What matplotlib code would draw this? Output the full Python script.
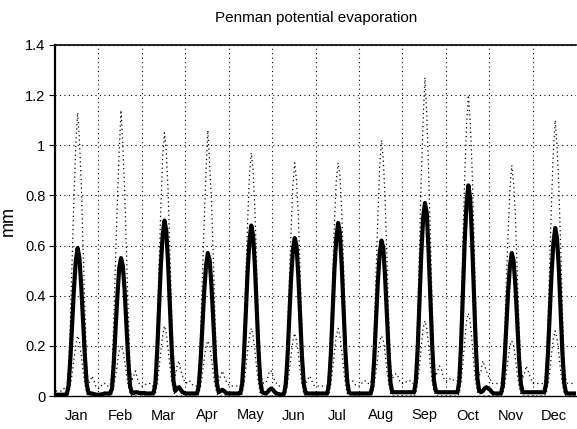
import matplotlib
matplotlib.use("Agg")
import matplotlib.pyplot as plt
import numpy as np

plt.rcParams['font.family'] = ['Liberation Sans', 'DejaVu Sans']

months = ['Jan', 'Feb', 'Mar', 'Apr', 'May', 'Jun', 'Jul', 'Aug', 'Sep', 'Oct', 'Nov', 'Dec']
hours_per_month = 24

# Mean diurnal cycle per month (mm per hour), 24 hourly values each
mean_jan = [0.005,0.005,0.005,0.005,0.005,0.005,0.008,0.04,0.15,0.29,0.43,0.54,0.59,0.55,0.44,0.30,0.16,0.05,0.012,0.01,0.01,0.008,0.006,0.005]
mean_feb = [0.005,0.006,0.008,0.01,0.01,0.01,0.01,0.03,0.13,0.27,0.40,0.51,0.55,0.52,0.42,0.28,0.14,0.04,0.012,0.012,0.015,0.015,0.012,0.012]
mean_mar = [0.012,0.012,0.01,0.01,0.01,0.01,0.012,0.05,0.18,0.35,0.52,0.64,0.70,0.66,0.53,0.36,0.19,0.06,0.02,0.03,0.035,0.025,0.015,0.012]
mean_apr = [0.01,0.01,0.01,0.01,0.01,0.01,0.01,0.04,0.14,0.28,0.42,0.52,0.57,0.54,0.44,0.30,0.15,0.05,0.015,0.02,0.025,0.02,0.012,0.01]
mean_may = [0.01,0.01,0.01,0.01,0.01,0.01,0.012,0.05,0.17,0.34,0.50,0.62,0.68,0.64,0.52,0.35,0.18,0.06,0.015,0.012,0.01,0.015,0.025,0.03]
mean_jun = [0.025,0.015,0.01,0.008,0.006,0.006,0.008,0.04,0.15,0.31,0.47,0.58,0.63,0.60,0.48,0.32,0.16,0.05,0.012,0.01,0.01,0.01,0.01,0.01]
mean_jul = [0.01,0.01,0.01,0.01,0.01,0.01,0.01,0.05,0.17,0.34,0.51,0.63,0.69,0.65,0.52,0.35,0.18,0.06,0.015,0.01,0.01,0.01,0.01,0.01]
mean_aug = [0.01,0.01,0.01,0.01,0.01,0.01,0.01,0.04,0.15,0.31,0.46,0.57,0.62,0.59,0.47,0.32,0.16,0.05,0.015,0.015,0.015,0.015,0.015,0.015]
mean_sep = [0.015,0.015,0.015,0.015,0.015,0.015,0.015,0.06,0.19,0.38,0.57,0.71,0.77,0.73,0.58,0.39,0.20,0.06,0.02,0.015,0.015,0.015,0.015,0.015]
mean_oct = [0.015,0.015,0.015,0.015,0.015,0.015,0.015,0.06,0.21,0.42,0.62,0.77,0.84,0.79,0.63,0.42,0.22,0.07,0.02,0.015,0.02,0.03,0.035,0.03]
mean_nov = [0.025,0.015,0.01,0.01,0.01,0.01,0.01,0.04,0.14,0.28,0.42,0.52,0.57,0.54,0.44,0.30,0.15,0.05,0.015,0.015,0.015,0.015,0.015,0.015]
mean_dec = [0.015,0.015,0.015,0.015,0.015,0.015,0.015,0.05,0.17,0.33,0.49,0.61,0.67,0.63,0.51,0.34,0.17,0.05,0.012,0.01,0.01,0.01,0.01,0.01]

# Maximum diurnal cycle per month
max_jan = [0.02,0.02,0.02,0.02,0.03,0.03,0.03,0.10,0.30,0.55,0.80,1.00,1.13,1.02,0.85,0.60,0.35,0.12,0.05,0.06,0.08,0.06,0.04,0.03]
max_feb = [0.03,0.04,0.05,0.05,0.04,0.04,0.04,0.10,0.30,0.55,0.78,0.98,1.14,1.00,0.82,0.58,0.33,0.12,0.06,0.08,0.10,0.07,0.05,0.04]
max_mar = [0.04,0.04,0.05,0.05,0.05,0.04,0.04,0.10,0.28,0.52,0.75,0.95,1.05,0.98,0.82,0.58,0.33,0.14,0.08,0.12,0.14,0.10,0.08,0.06]
max_apr = [0.05,0.06,0.06,0.05,0.04,0.04,0.04,0.10,0.26,0.48,0.70,0.90,1.06,0.92,0.78,0.55,0.30,0.12,0.06,0.08,0.10,0.08,0.06,0.05]
max_may = [0.04,0.04,0.04,0.04,0.04,0.04,0.04,0.10,0.26,0.48,0.70,0.88,0.97,0.90,0.74,0.52,0.28,0.12,0.06,0.05,0.05,0.07,0.10,0.10]
max_jun = [0.08,0.06,0.05,0.04,0.04,0.04,0.04,0.09,0.24,0.45,0.66,0.84,0.93,0.86,0.72,0.50,0.27,0.10,0.05,0.06,0.08,0.07,0.05,0.04]
max_jul = [0.04,0.04,0.04,0.04,0.04,0.04,0.04,0.10,0.26,0.48,0.70,0.86,0.93,0.88,0.74,0.52,0.28,0.11,0.06,0.06,0.06,0.05,0.04,0.04]
max_aug = [0.04,0.05,0.06,0.06,0.05,0.05,0.05,0.10,0.27,0.50,0.72,0.92,1.02,0.94,0.78,0.55,0.30,0.12,0.07,0.08,0.09,0.08,0.06,0.05]
max_sep = [0.05,0.05,0.06,0.06,0.06,0.05,0.05,0.12,0.32,0.60,0.88,1.10,1.27,1.12,0.90,0.64,0.36,0.14,0.08,0.10,0.12,0.11,0.08,0.06]
max_oct = [0.06,0.06,0.07,0.07,0.06,0.06,0.06,0.12,0.34,0.62,0.88,1.08,1.20,1.10,0.92,0.66,0.38,0.15,0.08,0.10,0.14,0.12,0.10,0.08]
max_nov = [0.07,0.05,0.05,0.05,0.05,0.05,0.05,0.10,0.25,0.46,0.66,0.83,0.92,0.85,0.72,0.50,0.28,0.12,0.07,0.09,0.12,0.10,0.08,0.06]
max_dec = [0.05,0.05,0.05,0.05,0.05,0.05,0.05,0.11,0.30,0.54,0.78,0.98,1.10,1.00,0.84,0.60,0.34,0.13,0.06,0.05,0.05,0.05,0.05,0.05]

# Minimum diurnal cycle per month
min_jan = [0.0,0.0,0.0,0.0,0.0,0.0,0.0,0.01,0.04,0.09,0.15,0.20,0.24,0.22,0.16,0.10,0.05,0.01,0.0,0.0,0.0,0.0,0.0,0.0]
min_feb = [0.0,0.0,0.0,0.0,0.0,0.0,0.0,0.01,0.04,0.08,0.13,0.18,0.20,0.18,0.14,0.09,0.04,0.01,0.0,0.0,0.0,0.0,0.0,0.0]
min_mar = [0.0,0.0,0.0,0.0,0.0,0.0,0.0,0.01,0.05,0.11,0.18,0.24,0.28,0.25,0.19,0.12,0.06,0.02,0.0,0.0,0.0,0.0,0.0,0.0]
min_apr = [0.0,0.0,0.0,0.0,0.0,0.0,0.0,0.01,0.04,0.09,0.15,0.20,0.22,0.20,0.15,0.09,0.04,0.01,0.0,0.0,0.0,0.0,0.0,0.0]
min_may = [0.0,0.0,0.0,0.0,0.0,0.0,0.0,0.01,0.05,0.11,0.18,0.24,0.27,0.24,0.18,0.11,0.05,0.01,0.0,0.0,0.0,0.0,0.0,0.0]
min_jun = [0.0,0.0,0.0,0.0,0.0,0.0,0.0,0.01,0.05,0.10,0.16,0.22,0.25,0.22,0.17,0.10,0.05,0.01,0.0,0.0,0.0,0.0,0.0,0.0]
min_jul = [0.0,0.0,0.0,0.0,0.0,0.0,0.0,0.01,0.05,0.11,0.18,0.24,0.27,0.24,0.18,0.11,0.05,0.01,0.0,0.0,0.0,0.0,0.0,0.0]
min_aug = [0.0,0.0,0.0,0.0,0.0,0.0,0.0,0.01,0.05,0.10,0.16,0.22,0.24,0.22,0.17,0.10,0.05,0.01,0.0,0.0,0.0,0.0,0.0,0.0]
min_sep = [0.0,0.0,0.0,0.0,0.0,0.0,0.0,0.01,0.06,0.12,0.20,0.27,0.30,0.27,0.20,0.12,0.06,0.02,0.0,0.0,0.0,0.0,0.0,0.0]
min_oct = [0.0,0.0,0.0,0.0,0.0,0.0,0.0,0.01,0.06,0.13,0.22,0.30,0.33,0.30,0.22,0.13,0.06,0.02,0.0,0.0,0.0,0.0,0.0,0.0]
min_nov = [0.0,0.0,0.0,0.0,0.0,0.0,0.0,0.01,0.04,0.09,0.15,0.20,0.22,0.20,0.15,0.09,0.04,0.01,0.0,0.0,0.0,0.0,0.0,0.0]
min_dec = [0.0,0.0,0.0,0.0,0.0,0.0,0.0,0.01,0.05,0.10,0.17,0.23,0.26,0.23,0.17,0.10,0.05,0.01,0.0,0.0,0.0,0.0,0.0,0.0]

mean_series = mean_jan + mean_feb + mean_mar + mean_apr + mean_may + mean_jun + mean_jul + mean_aug + mean_sep + mean_oct + mean_nov + mean_dec
max_series = max_jan + max_feb + max_mar + max_apr + max_may + max_jun + max_jul + max_aug + max_sep + max_oct + max_nov + max_dec
min_series = min_jan + min_feb + min_mar + min_apr + min_may + min_jun + min_jul + min_aug + min_sep + min_oct + min_nov + min_dec

yticks = [0, 0.2, 0.4, 0.6, 0.8, 1.0, 1.2, 1.4]
ytick_labels = ['0', '0.2', '0.4', '0.6', '0.8', '1', '1.2', '1.4']

x = np.arange(len(mean_series)) + 0.5

fig = plt.figure(figsize=(5.77, 4.29), dpi=100)
ax = fig.add_axes([55/577, 1 - 396/429, 521/577, 351/429])

ax.plot(x, max_series, color='black', lw=0.9, linestyle=(0, (1, 2.5)), zorder=3)
ax.plot(x, min_series, color='black', lw=0.9, linestyle=(0, (1, 2.5)), zorder=3)
ax.plot(x, mean_series, color='black', lw=3.0, zorder=4)

n = len(months) * hours_per_month
ax.set_xlim(0, n)
ax.set_ylim(0, 1.4)

ax.set_xticks(np.arange(hours_per_month, n, hours_per_month))
ax.set_xticklabels([])
ax.set_xticks(np.arange(len(months)) * hours_per_month + hours_per_month / 2, minor=True)
ax.set_xticklabels(months, minor=True, fontsize=10.5)
ax.tick_params(axis='x', which='major', length=0)
ax.tick_params(axis='x', which='minor', length=0, pad=9)

ax.set_yticks(yticks)
ax.set_yticklabels(ytick_labels, fontsize=10.5)
ax.tick_params(axis='y', length=4, width=0.8, pad=3, direction='out')

ax.grid(True, which='major', color='black', linestyle=(0, (1, 3)), lw=0.8)

ax.spines['right'].set_visible(False)
ax.spines['left'].set_linewidth(1.6)
ax.spines['top'].set_linewidth(1.2)
ax.spines['bottom'].set_linewidth(1.0)

ax.set_ylabel('mm', fontsize=13, labelpad=6)
fig.text(316/577, 1 - 18/429, 'Penman potential evaporation', ha='center', va='center', fontsize=11)

fig.savefig('out.png', dpi=100)
